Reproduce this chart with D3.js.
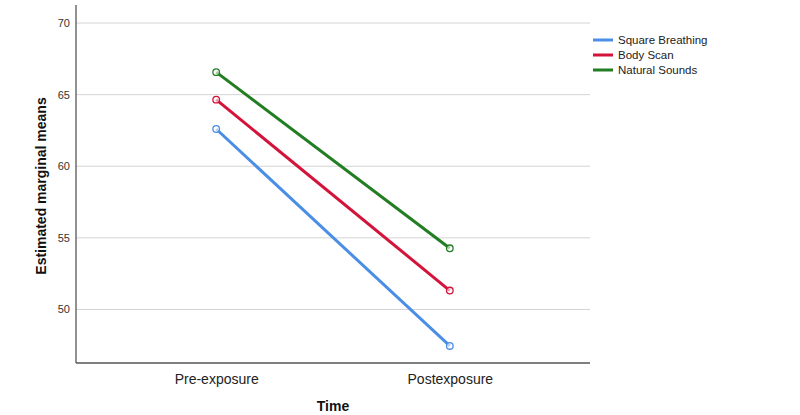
<!DOCTYPE html>
<html><head><meta charset="utf-8">
<script src="https://cdn.jsdelivr.net/npm/d3@7"></script>
<style>body{margin:0;background:#fff;} svg{display:block;font-family:Arial,"Liberation Sans",sans-serif;}</style>
</head><body>
<svg id="c" width="800" height="415"></svg>
<script>
const times = ["Pre-exposure", "Postexposure"];
const seriesNames = ["Square Breathing", "Body Scan", "Natural Sounds"];
const squareBreathing = [62.6, 47.45];
const bodyScan = [64.65, 51.32];
const naturalSounds = [66.57, 54.27];
const yTicks = [50, 55, 60, 65, 70];
const colors = ["#4a8ee6", "#d4133b", "#237d23"];

const seriesData = [squareBreathing, bodyScan, naturalSounds];
const svg = d3.select("#c");
const m = {l: 76, r: 590, t: 5, b: 363};

const x = d3.scalePoint().domain(times).range([m.l, m.r]).padding(0.6);
const y = d3.scaleLinear().domain([46.26, 71.26]).range([m.b, m.t]);

// gridlines
svg.append("g").selectAll("line").data(yTicks).join("line")
  .attr("x1", m.l).attr("x2", m.r)
  .attr("y1", d => y(d)).attr("y2", d => y(d))
  .attr("stroke", "#d4d4d4").attr("stroke-width", 1);

// y axis
const ya = svg.append("g").attr("transform", `translate(${m.l},0)`)
  .call(d3.axisLeft(y).tickValues(yTicks).tickSize(0).tickPadding(6));
ya.select(".domain").remove();
ya.selectAll("text").attr("font-size", 11).attr("fill", "#333").attr("font-family", "Arial, 'Liberation Sans', sans-serif");

// x axis
const xa = svg.append("g").attr("transform", `translate(0,${m.b})`)
  .call(d3.axisBottom(x).tickSize(0).tickPadding(11));
xa.select(".domain").remove();
xa.selectAll("text").attr("font-size", 14).attr("fill", "#222").attr("font-family", "Arial, 'Liberation Sans', sans-serif");

// axis lines
svg.append("line").attr("x1", m.l).attr("x2", m.l).attr("y1", m.t).attr("y2", m.b)
  .attr("stroke", "#555").attr("stroke-width", 1.3);
svg.append("line").attr("x1", m.l).attr("x2", m.r).attr("y1", m.b).attr("y2", m.b)
  .attr("stroke", "#555").attr("stroke-width", 1.3);

// lines
const line = d3.line().x((d, i) => x(times[i])).y(d => y(d));
seriesData.forEach((s, k) => {
  svg.append("path").datum(s).attr("d", line)
    .attr("fill", "none").attr("stroke", colors[k]).attr("stroke-width", 3);
  svg.append("g").selectAll("circle").data(s).join("circle")
    .attr("cx", (d, i) => x(times[i])).attr("cy", d => y(d)).attr("r", 3.3)
    .attr("fill", "#fff").attr("fill-opacity", 0.6)
    .attr("stroke", colors[k]).attr("stroke-width", 1.3);
});

// axis titles
svg.append("text").attr("transform", `translate(46,${(m.t + m.b) / 2 + 2}) rotate(-90)`)
  .attr("text-anchor", "middle").attr("font-size", 14).attr("font-weight", "bold").attr("fill", "#111")
  .text("Estimated marginal means");
svg.append("text").attr("x", (m.l + m.r) / 2).attr("y", 411)
  .attr("text-anchor", "middle").attr("font-size", 14).attr("font-weight", "bold").attr("fill", "#111")
  .text("Time");

// legend
const lg = svg.append("g");
seriesNames.forEach((n, k) => {
  const yy = 40 + k * 15;
  lg.append("line").attr("x1", 593).attr("x2", 613).attr("y1", yy).attr("y2", yy)
    .attr("stroke", colors[k]).attr("stroke-width", 3);
  lg.append("text").attr("x", 618).attr("y", yy + 4).attr("font-size", 11.5).attr("fill", "#222")
    .text(n);
});
</script>
</body></html>
